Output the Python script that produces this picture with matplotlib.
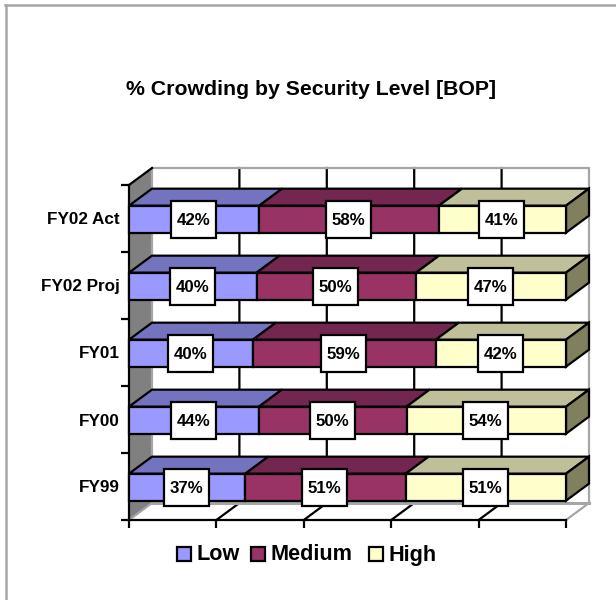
import matplotlib
matplotlib.use("Agg")
import matplotlib.pyplot as plt
from matplotlib.patches import Polygon, Rectangle
from matplotlib.lines import Line2D

# ---------- data ----------
categories = ["FY99", "FY00", "FY01", "FY02 Proj", "FY02 Act"]
low = [37, 44, 40, 40, 42]
medium = [51, 50, 59, 50, 58]
high = [51, 54, 42, 47, 41]
series_names = ["Low", "Medium", "High"]
title_text = "% Crowding by Security Level [BOP]"

# ---------- style ----------
W, H = 616, 600
FONT = "Liberation Sans"
front = ["#9999FF", "#993366", "#FFFFCC"]
top = ["#7373BF", "#732650", "#BFBF99"]
side_color = "#80805F"
wall_gray = "#808080"
edge = "#A6A6A6"
LW = 1.6

fig = plt.figure(figsize=(W / 100, H / 100), dpi=100, facecolor="white")

# outer frame (top and left only)
fig.add_artist(Line2D([6 / W, 6 / W], [0, 1 - 5 / H], color=edge, lw=1.8))
fig.add_artist(Line2D([5 / W, 1], [1 - 5 / H, 1 - 5 / H], color=edge, lw=1.8))

# plot axes: x is percent of stack, y is category band
left_px, right_px, bot_px, top_px = 129, 566, 520, 185
ax = fig.add_axes([left_px / W, 1 - bot_px / H,
                   (right_px - left_px) / W, (bot_px - top_px) / H])
ax.set_xlim(0, 100)
ax.set_ylim(0, len(categories))
ax.patch.set_visible(False)
for s in ax.spines.values():
    s.set_visible(False)

# depth offset in data units
ddx = 23 / (right_px - left_px) * 100
ddy = 17 / (bot_px - top_px) * len(categories)
nc = len(categories)

# walls
ax.add_patch(Polygon([(0, 0), (ddx, ddy), (ddx, nc + ddy), (0, nc)],
                     fc=wall_gray, ec="none", clip_on=False, zorder=1))
ax.plot([0, ddx], [nc, nc + ddy], color="black", lw=LW, clip_on=False, zorder=1.7)
ax.plot([0, ddx], [0, ddy], color=edge, lw=LW, clip_on=False, zorder=1.6)
for x in [20, 40, 60, 80]:
    ax.plot([x, x + ddx, x + ddx], [0, ddy, nc + ddy], color="black", lw=LW,
            clip_on=False, zorder=1.5, solid_joinstyle="miter")
ax.plot([ddx, ddx, 100 + ddx, 100 + ddx, 100], [ddy, nc + ddy, nc + ddy, ddy, 0],
        color=edge, lw=LW, clip_on=False, zorder=1.6)
ax.plot([ddx, 100 + ddx], [ddy, ddy], color=edge, lw=2.2, clip_on=False, zorder=1.6)

# ticks and labels
ax.set_xticks([0, 20, 40, 60, 80, 100])
ax.set_xticklabels([])
ax.set_yticks(range(nc + 1))
ax.set_yticklabels([])
ax.tick_params(axis="both", which="major", length=5.5, width=LW, color="black")
ax.set_yticks([i + 0.5 for i in range(nc)], minor=True)
ax.set_yticklabels(categories, minor=True, fontfamily=FONT, fontweight="bold", fontsize=12.3)
ax.tick_params(axis="y", which="minor", length=0, pad=6.5)
ax.plot([0, 100], [0, 0], color="black", lw=LW, clip_on=False, zorder=1.7)
ax.plot([0, 0], [0, nc], color="black", lw=LW, clip_on=False, zorder=1.7)

# stacked bars
bar_h = 27 / ((bot_px - top_px) / nc)
bw = 45 / (right_px - left_px) * 100
bh = 37 / ((bot_px - top_px) / nc)
for i in range(nc):
    vals = [low[i], medium[i], high[i]]
    tot = sum(vals)
    y0 = i + 0.5 - bar_h / 2 - 0.01
    y1 = y0 + bar_h
    cum = 0
    for j, v in enumerate(vals):
        a = cum / tot * 100
        b = (cum + v) / tot * 100
        cum += v
        ax.add_patch(Polygon([(a, y1), (a + ddx, y1 + ddy), (b + ddx, y1 + ddy), (b, y1)],
                             fc=top[j], ec="black", lw=LW, clip_on=False, zorder=3,
                             joinstyle="miter"))
        ax.add_patch(Rectangle((a, y0), b - a, bar_h, fc=front[j], ec="black", lw=LW,
                               clip_on=False, zorder=3.2))
        if j == 2:
            ax.add_patch(Polygon([(b, y0), (b + ddx, y0 + ddy), (b + ddx, y1 + ddy), (b, y1)],
                                 fc=side_color, ec="black", lw=LW, clip_on=False, zorder=3.1,
                                 joinstyle="miter"))
        cx = (a + b) / 2 - 0.15
        cy = (y0 + y1) / 2
        ax.add_patch(Rectangle((cx - bw / 2, cy - bh / 2), bw, bh,
                               fc="white", ec="black", lw=LW, clip_on=False, zorder=4))
        ax.text(cx, cy, f"{v}%", ha="center", va="center_baseline",
                family=FONT, fontweight="bold", fontsize=12.2, color="black", zorder=5)

# title
fig.text(311 / W, 1 - 89.5 / H, title_text, ha="center", va="center",
         family=FONT, fontweight="bold", fontsize=15.3)

# legend
swatch_x = [177, 251, 369]
text_x = [196, 270, 389]
for name, c, sx, tx in zip(series_names, front, swatch_x, text_x):
    fig.add_artist(Rectangle((sx / W, 1 - 561 / H), 14 / W, 14 / H, fc=c, ec="black", lw=LW,
                             transform=fig.transFigure))
    fig.text(tx / W, 1 - 555 / H, name, ha="left", va="center",
             family=FONT, fontweight="bold", fontsize=15.6)

fig.savefig("out.png", dpi=100, facecolor="white")
